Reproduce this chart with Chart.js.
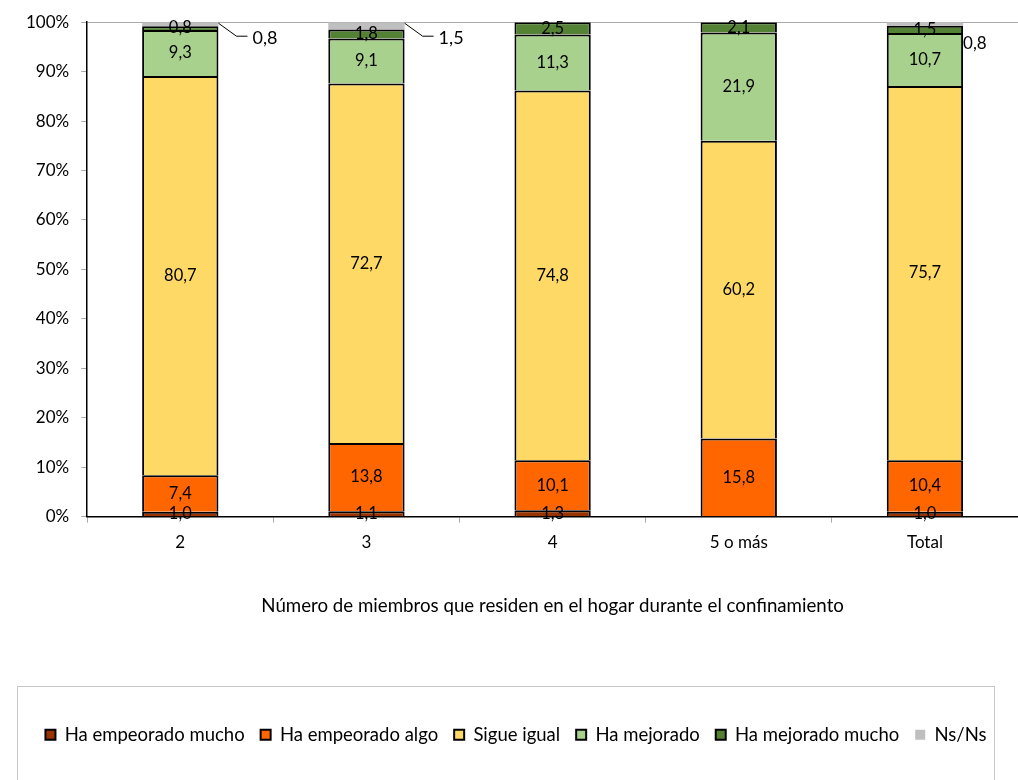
<!DOCTYPE html>
<html>
<head>
<meta charset="utf-8">
<script src="https://cdn.jsdelivr.net/npm/chart.js@4/dist/chart.umd.min.js"></script>
<style>
  html, body { margin: 0; padding: 0; background: #fff; }
  #wrap { width: 1018px; height: 780px; }
</style>
</head>
<body>
<div id="wrap"><canvas id="grafico"></canvas></div>
<script>
var categorias = ['2', '3', '4', '5 o más', 'Total'];
var empeoradoMucho = [1.0, 1.1, 1.3, 0, 1.0];
var empeoradoAlgo = [7.4, 13.8, 10.1, 15.8, 10.4];
var sigueIgual = [80.7, 72.7, 74.8, 60.2, 75.7];
var mejorado = [9.3, 9.1, 11.3, 21.9, 10.7];
var mejoradoMucho = [0.8, 1.8, 2.5, 2.1, 1.5];
var nsNs = [0.8, 1.5, 0, 0, 0.8];
var yTicks = [0, 10, 20, 30, 40, 50, 60, 70, 80, 90, 100];

var fuente = 'Lato, "DejaVu Sans", sans-serif';

function coma(v) {
    return v.toFixed(1).replace('.', ',');
}

// etiquetas de valores en cada tramo
var etiquetas = {
    id: 'etiquetas',
    afterDatasetsDraw: function (chart) {
        var ctx = chart.ctx;
        ctx.save();
        ctx.fillStyle = '#000';
        ctx.textBaseline = 'middle';
        chart.data.datasets.forEach(function (ds, i) {
            var meta = chart.getDatasetMeta(i);
            meta.data.forEach(function (bar, j) {
                var v = ds.data[j];
                if (!v) return;
                if (ds.label == 'Ns/Ns') {
                    var xr = bar.x + bar.width / 2;
                    ctx.textAlign = 'left';
                    if (j == categorias.length - 1) {
                        ctx.font = '17px ' + fuente;
                        ctx.fillText(coma(v), xr, bar.y + 22);
                    } else {
                        ctx.strokeStyle = '#000';
                        ctx.lineWidth = 1;
                        ctx.beginPath();
                        ctx.moveTo(xr, bar.y + 1);
                        ctx.lineTo(xr + 18, bar.y + 14);
                        ctx.lineTo(xr + 29, bar.y + 14);
                        ctx.stroke();
                        ctx.font = '18px ' + fuente;
                        ctx.fillText(coma(v), xr + 34, bar.y + 16);
                    }
                } else {
                    ctx.font = '16.5px ' + fuente;
                    ctx.textAlign = 'center';
                    ctx.fillText(coma(v), bar.x, (bar.y + bar.base) / 2);
                }
            });
        });
        ctx.restore();
    }
};

// marco de la leyenda
var marco = {
    id: 'marco',
    afterDraw: function (chart) {
        var ctx = chart.ctx;
        ctx.save();
        ctx.strokeStyle = '#c8c8c8';
        ctx.lineWidth = 1;
        ctx.strokeRect(17.5, 686.5, 977, 110);
        ctx.restore();
    }
};

var ctx = document.getElementById('grafico');
var grafico = new Chart(ctx, {
    type: 'bar',
    data: {
        labels: categorias,
        datasets: [
            { label: 'Ha empeorado mucho', data: empeoradoMucho, backgroundColor: '#993300', borderColor: '#000', borderWidth: 2 },
            { label: 'Ha empeorado algo', data: empeoradoAlgo, backgroundColor: '#FF6600', borderColor: '#000', borderWidth: 2 },
            { label: 'Sigue igual', data: sigueIgual, backgroundColor: '#FFD966', borderColor: '#000', borderWidth: 2 },
            { label: 'Ha mejorado', data: mejorado, backgroundColor: '#A9D18E', borderColor: '#000', borderWidth: 2 },
            { label: 'Ha mejorado mucho', data: mejoradoMucho, backgroundColor: '#548235', borderColor: '#000', borderWidth: 2 },
            { label: 'Ns/Ns', data: nsNs, backgroundColor: '#BFBFBF', borderColor: '#BFBFBF', borderWidth: 0 }
        ]
    },
    options: {
        responsive: true,
        maintainAspectRatio: false,
        animation: false,
        layout: { padding: { top: 22, left: 14, right: 0, bottom: 26 } },
        datasets: { bar: { categoryPercentage: 1, barPercentage: 0.41 } },
        plugins: {
            legend: {
                position: 'bottom',
                labels: {
                    color: '#000',
                    font: { family: fuente, size: 18.5 },
                    boxWidth: 10,
                    boxHeight: 10,
                    padding: 16
                }
            },
            tooltip: { enabled: false }
        },
        scales: {
            x: {
                stacked: true,
                border: { color: '#000', width: 1.5 },
                grid: { offset: true, drawOnChartArea: false, tickLength: 6, tickColor: '#aaa' },
                ticks: { color: '#000', font: { family: fuente, size: 17 }, padding: 10 },
                title: {
                    display: true,
                    text: 'Número de miembros que residen en el hogar durante el confinamiento',
                    color: '#000',
                    font: { family: fuente, size: 18.7 },
                    padding: { top: 32, bottom: 92 }
                }
            },
            y: {
                stacked: true,
                min: 0,
                max: 100,
                afterBuildTicks: function (axis) {
                    axis.ticks = yTicks.map(function (v) { return { value: v }; });
                },
                border: { color: '#000', width: 1.5 },
                grid: {
                    color: function (c) { return c.tick && c.tick.value == 100 ? '#aaa' : 'transparent'; },
                    tickColor: '#aaa',
                    tickLength: 6
                },
                ticks: {
                    color: '#000',
                    font: { family: fuente, size: 17 },
                    padding: 12,
                    callback: function (v) { return v + '%'; }
                }
            }
        }
    },
    plugins: [etiquetas, marco]
});
</script>
</body>
</html>
